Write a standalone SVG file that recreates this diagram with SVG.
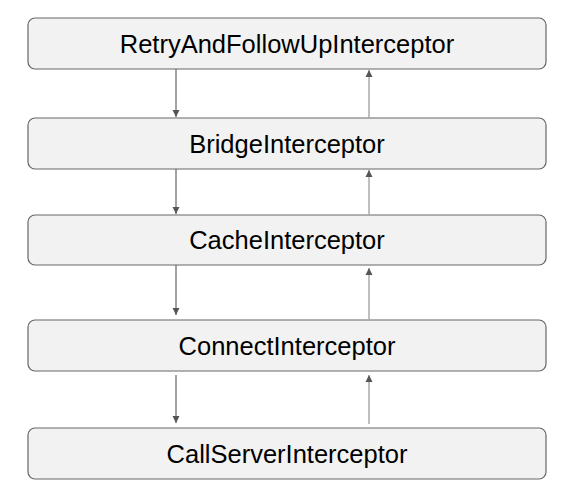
<svg xmlns="http://www.w3.org/2000/svg" width="580" height="500" viewBox="0 0 580 500">
<style>
.box{fill:#f2f2f2;stroke:#666;stroke-width:1.2}
.lbl{font-family:"Liberation Sans",Arial,sans-serif;font-size:25.5px;fill:#000;text-anchor:middle}
.down{stroke:#666;stroke-width:1.2;fill:none}
.up{stroke:#aaa;stroke-width:1.5;fill:none}
</style>
<defs>
<marker id="ah" viewBox="0 0 10 10" refX="10" refY="5" markerWidth="7" markerHeight="10" markerUnits="userSpaceOnUse" orient="auto"><path d="M0,0L10,5L0,10Z" fill="#555"/></marker>
</defs>
<g id="n1"><rect class="box" x="28" y="18" width="518" height="51" rx="7"/><text class="lbl" x="287" y="53">RetryAndFollowUpInterceptor</text></g>
<g id="n2"><rect class="box" x="28" y="118" width="518" height="51" rx="7"/><text class="lbl" x="287" y="153">BridgeInterceptor</text></g>
<g id="n3"><rect class="box" x="28" y="215" width="518" height="50" rx="7"/><text class="lbl" x="287" y="249">CacheInterceptor</text></g>
<g id="n4"><rect class="box" x="28" y="320" width="518" height="51" rx="7"/><text class="lbl" x="287" y="355">ConnectInterceptor</text></g>
<g id="n5"><rect class="box" x="28" y="428" width="518" height="51" rx="7"/><text class="lbl" x="287" y="463">CallServerInterceptor</text></g>
<g id="connectors">
<path class="down" d="M176,69V117" marker-end="url(#ah)"/>
<path class="up" d="M369,118V70" marker-end="url(#ah)"/>
<path class="down" d="M176,169V214" marker-end="url(#ah)"/>
<path class="up" d="M369,215V170" marker-end="url(#ah)"/>
<path class="down" d="M176,265V315" marker-end="url(#ah)"/>
<path class="up" d="M369,320V268" marker-end="url(#ah)"/>
<path class="down" d="M176,375V423" marker-end="url(#ah)"/>
<path class="up" d="M369,424V375" marker-end="url(#ah)"/>
</g>
</svg>
